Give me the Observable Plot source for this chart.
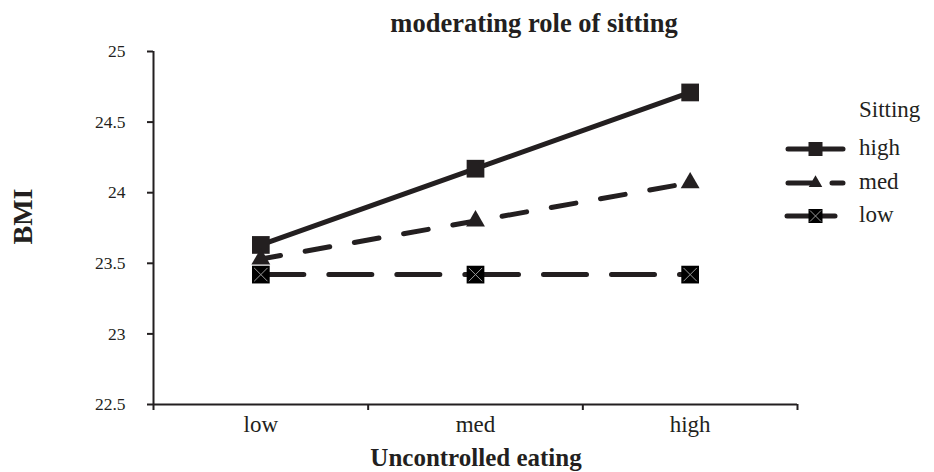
<!DOCTYPE html>
<html><head><meta charset="utf-8">
<script src="https://cdn.jsdelivr.net/npm/d3@7"></script>
<script src="https://cdn.jsdelivr.net/npm/@observablehq/plot@0.6"></script>
<style>
html,body{margin:0;padding:0;background:#fff;}
#wrap{position:relative;width:934px;height:472px;}
#wrap svg{position:absolute;left:0;top:0;}
#wrap text{font-family:'Liberation Serif','Times New Roman',serif !important;}
</style></head>
<body><div id="wrap"></div>
<script>
const categories = ["low", "med", "high"];
const sittingLevels = ["high", "med", "low"];
const highValues = [23.63, 24.17, 24.71];
const medValues = [23.53, 23.80, 24.07];
const lowValues = [23.42, 23.42, 23.42];
const yTicks = [22.5, 23, 23.5, 24, 24.5, 25];

const ink = "#231f20";
const font = "'Liberation Serif', 'Times New Roman', serif";
const seriesValues = {high: highValues, med: medValues, low: lowValues};
const rows = sittingLevels.flatMap(s => categories.map((c, i) => ({sitting: s, cat: c, x: i + 0.5, y: seriesValues[s][i]})));
const of = s => rows.filter(d => d.sitting === s);
const segs = s => of(s).slice(1).map((d, i) => ({x1: of(s)[i].x, y1: of(s)[i].y, x2: d.x, y2: d.y}));

const xSym = {draw(ctx, size) {const s = Math.sqrt(size) / 2; ctx.moveTo(-s, -s); ctx.lineTo(s, s); ctx.moveTo(s, -s); ctx.lineTo(-s, s);}};

const chart = Plot.plot({
  width: 934, height: 472,
  marginLeft: 153, marginRight: 137, marginTop: 51, marginBottom: 68,
  style: {fontFamily: font, color: ink, background: "#fff", overflow: "visible"},
  x: {type: "linear", domain: [0, 3]},
  y: {domain: [22.5, 25]},
  marks: [
    Plot.axisY({ticks: yTicks, tickSize: 6, tickPadding: 22, tickFormat: d => String(d), fontSize: 17.5, stroke: ink, strokeWidth: 2, fill: ink, label: null}),
    Plot.axisX({ticks: [0, 1, 2, 3], tickSize: 6, tickFormat: () => "", stroke: ink, strokeWidth: 2, label: null}),
    Plot.axisX({ticks: [0.5, 1.5, 2.5], tickSize: 0, tickPadding: 11, tickFormat: d => categories[Math.floor(d)], fontSize: 23, fill: ink, label: null}),
    Plot.ruleX([0], {stroke: ink, strokeWidth: 2}),
    Plot.ruleY([22.5], {stroke: ink, strokeWidth: 2}),
    Plot.link(segs("low"), {x1: "x1", y1: "y1", x2: "x2", y2: "y2", stroke: ink, strokeWidth: 5, strokeLinecap: "round", strokeDasharray: "43,25"}),
    Plot.line(of("med"), {x: "x", y: "y", stroke: ink, strokeWidth: 5, strokeLinecap: "round", strokeDasharray: "25,25", strokeDashoffset: 5}),
    Plot.line(of("high"), {x: "x", y: "y", stroke: ink, strokeWidth: 5}),
    Plot.dot(of("high"), {x: "x", y: "y", symbol: "square", r: 10, fill: ink, stroke: "none"}),
    Plot.dot(of("med"), {x: "x", y: "y", symbol: "triangle", r: 7, fill: ink, stroke: "none"}),
    Plot.dot(of("low"), {x: "x", y: "y", symbol: "square", r: 10, fill: "#000", stroke: "none"}),
    Plot.dot(of("low"), {x: "x", y: "y", symbol: xSym, r: 7.5, fill: "none", stroke: "#9a9a9a", strokeWidth: 1})
  ]
});
document.getElementById("wrap").appendChild(chart);
d3.select(chart).attr("font-family", font);
d3.select(chart).selectAll('[aria-label="y-axis tick label"]').attr("font-size", 17.5);
d3.select(chart).selectAll('[aria-label="x-axis tick label"]').attr("font-size", 23);

// titles and legend overlay
const ov = d3.select("#wrap").append("svg").attr("width", 934).attr("height", 472).attr("font-family", font).style("pointer-events", "none");
const txt = (x, y, s, size, bold) => ov.append("text").attr("x", x).attr("y", y).attr("font-family", font).attr("font-size", size).attr("font-weight", bold ? "bold" : "normal").attr("fill", ink).text(s);
txt(534, 32, "moderating role of sitting", 26.5, true).attr("text-anchor", "middle");
txt(476, 466, "Uncontrolled eating", 25, true).attr("text-anchor", "middle");
txt(0, 0, "BMI", 28, true).attr("text-anchor", "middle").attr("transform", "translate(32,216.5) rotate(-90)");

txt(859, 117, "Sitting", 23, false);
const items = [
  {name: "high", y: 149, dash: null, x1: 788, x2: 843},
  {name: "med", y: 183, dash: "24,20", x1: 788, x2: 843},
  {name: "low", y: 216, dash: null, x1: 787, x2: 835}
];
items.forEach(it => {
  const l = ov.append("line").attr("x1", it.x1).attr("x2", it.x2).attr("y1", it.y).attr("y2", it.y)
    .attr("stroke", ink).attr("stroke-width", 5).attr("stroke-linecap", "round");
  if (it.dash) l.attr("stroke-dasharray", it.dash);
  const cx = 815.5;
  if (it.name === "high") ov.append("rect").attr("x", cx - 7).attr("y", it.y - 7).attr("width", 14).attr("height", 14).attr("fill", ink);
  if (it.name === "med") ov.append("path").attr("d", d3.symbol(d3.symbolTriangle, 80)()).attr("transform", `translate(${cx},${it.y})`).attr("fill", ink);
  if (it.name === "low") {
    ov.append("rect").attr("x", cx - 7).attr("y", it.y - 7).attr("width", 14).attr("height", 14).attr("fill", "#000");
    ov.append("path").attr("d", `M${cx-5.5},${it.y-5.5}L${cx+5.5},${it.y+5.5}M${cx+5.5},${it.y-5.5}L${cx-5.5},${it.y+5.5}`).attr("stroke", "#9a9a9a").attr("stroke-width", 1);
  }
  txt(859, it.y + 6, it.name, 23, false);
});
</script></body></html>
